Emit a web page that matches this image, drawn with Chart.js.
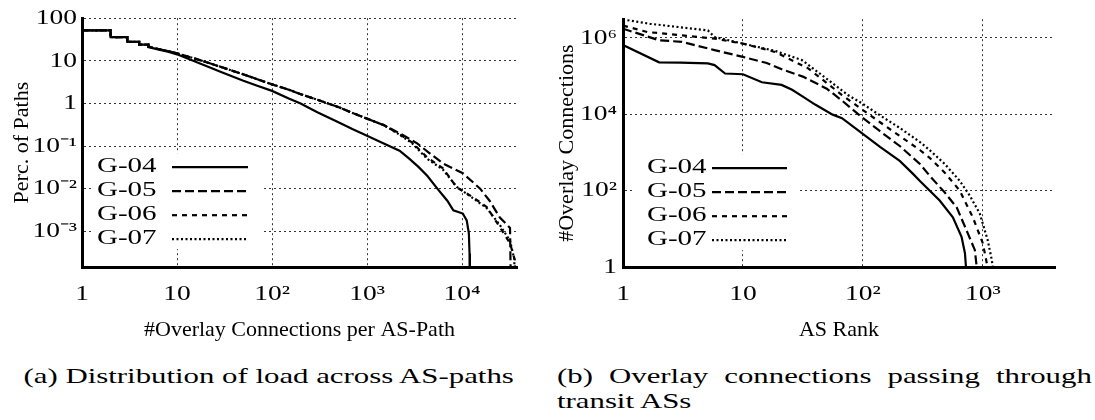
<!DOCTYPE html>
<html><head><meta charset="utf-8">
<script src="https://cdn.jsdelivr.net/npm/chart.js@4.4.1/dist/chart.umd.min.js"></script>
<style>
html,body{margin:0;padding:0;background:#fff;}
body{width:1095px;height:420px;position:relative;overflow:hidden;font-family:"Liberation Serif",serif;color:#000;}
#ca{position:absolute;left:0;top:0;}
#cb{position:absolute;left:545px;top:0;}
.cap{position:absolute;font-size:22px;line-height:25px;white-space:nowrap;}
#capa{left:0;top:363px;width:537px;text-align:center;transform:scaleX(1.4);transform-origin:268px 0;}
#capb1{left:557px;top:363px;width:382px;text-align:justify;text-align-last:justify;transform:scaleX(1.4);transform-origin:0 0;}
#capb2{left:557px;top:388px;transform:scaleX(1.4);transform-origin:0 0;}
</style></head><body>
<canvas id="ca" width="545" height="345"></canvas>
<canvas id="cb" width="550" height="345"></canvas>
<div class="cap" id="capa">(a) Distribution of load across AS-paths</div>
<div class="cap" id="capb1">(b) Overlay connections passing through</div>
<div class="cap" id="capb2">transit ASs</div>
<script>
// ---------- series names ----------
const seriesNames = ['G-04', 'G-05', 'G-06', 'G-07'];

// ---------- panel (a): % of paths vs #overlay connections per AS-path ----------
const a04x = [1,2,2,3,3,4,4,5,5,6,7,8,10,15,20,30,50,70,100,150,200,300,500,700,1000,1500,2200,2800,3500,4300,5500,7000,8100,10200,11200,11800,12000,12100];
const a04y = [52,52,36,36,28,28,24,24,21,19,17.5,16.3,14.2,9.9,7.7,5.3,3.4,2.6,1.97,1.3,1.0,0.62,0.36,0.25,0.175,0.115,0.078,0.05,0.032,0.02,0.01,0.0052,0.0031,0.0026,0.0018,0.0009,0.0003,0.00001];
const a05x = [1,2,2,3,3,4,4,5,5,6,7,8,10,15,20,30,50,70,100,150,200,300,500,700,1000,1500,2200,3400,4300,6300,10200,15500,19500,25000,32000,33000];
const a05y = [52,52,36,36,28,28,24,24,21.5,19.5,18,17,15,11.5,9.4,7.0,4.8,3.7,2.8,2.1,1.65,1.22,0.82,0.6,0.44,0.31,0.2,0.114,0.075,0.039,0.023,0.01,0.0052,0.0021,0.0012,0.00001];
const a06x = [1,2,2,3,3,4,4,5,5,6,7,8,10,15,20,30,50,70,100,150,200,300,500,700,1000,1500,2200,3000,4300,6300,8800,13000,18200,25000,32000,36000,36500];
const a06y = [52,52,36,36,28,28,24,24,21.5,19.5,18,17,15,11.5,9.4,7.0,4.8,3.7,2.8,2.1,1.65,1.22,0.82,0.6,0.44,0.31,0.19,0.12,0.054,0.03,0.0107,0.0063,0.0037,0.00125,0.00052,0.00021,0.000001];
const a07x = [1,2,2,3,3,4,4,5,5,6,7,8,10,15,20,30,50,70,100,150,200,300,500,700,1000,1500,2200,3000,4300,6300,8800,13000,18200,25000,32000,35500,36500];
const a07y = [52,52,36,36,28,28,24,24,21.5,19.5,18,17,15,11.5,9.4,7.0,4.8,3.7,2.8,2.1,1.65,1.22,0.82,0.6,0.44,0.31,0.185,0.115,0.05,0.028,0.011,0.006,0.0035,0.0014,0.0006,0.00022,0.000001];

// ---------- panel (b): #overlay connections vs AS rank ----------
const b04x = [1,2,3,5.1,5.8,7.1,10,14.4,21,25.7,31.6,40,56,67,98,139,203,262,299,437,563,665,710,724];
const b04y = [6.5e5,2.3e5,2.25e5,2.15e5,1.95e5,1.17e5,1.12e5,6.9e4,5.9e4,4.4e4,2.9e4,1.8e4,9.8e3,7.9e3,3.2e3,1.4e3,600,275,180,55,20,6.2,2.3,1];
const b05x = [1,2,3.1,5.8,10,15.8,21.5,31.6,50,68,98,139,203,299,361,482,607,750,858,890];
const b05y = [1.75e6,8.7e5,7.9e5,4.8e5,3.2e5,2.2e5,1.48e5,9.7e4,4.7e4,2.2e4,8400,3600,1480,500,245,89,36,7.6,2.8,1];
const b06x = [1,1.6,3.1,5.8,10,18.5,35,67,98,139,203,299,361,482,643,826,1000,1080,1096];
const b06y = [2.1e6,1.43e6,1.17e6,9.6e5,7.1e5,4.3e5,1.6e5,3.2e4,1.35e4,6200,2700,1160,720,295,100,20,4.2,1.26,1];
const b07x = [1,1.68,5.1,5.8,10,18.5,31,40,75,98,139,203,299,361,482,643,779,944,1100,1190,1210];
const b07y = [3.06e6,2.35e6,1.58e6,1.06e6,7.1e5,4.6e5,2.63e5,1.45e5,3.2e4,1.95e4,9400,4400,1880,1150,500,180,74,25,5,1.5,1];

// ---------- tick values and labels ----------
const aXTicks = [1,10,100,1000,10000];
const aXLabels = ['1','10','10\u00B2','10\u00B3','10\u2074'];
const aYTicks = [0.001,0.01,0.1,1,10,100];
const aYLabels = ['10\u207B\u00B3','10\u207B\u00B2','10\u207B\u00B9','1','10','100'];
const bXTicks = [1,10,100,1000];
const bXLabels = ['1','10','10\u00B2','10\u00B3'];
const bYTicks = [1,100,10000,1000000];
const bYLabels = ['1','10\u00B2','10\u2074','10\u2076'];

const lineStyles = [
  {borderDash: []},
  {borderDash: [9,4]},
  {borderDash: [5,5]},
  {borderDash: [2,2.5]}
];

const FONT = '"Liberation Serif", "Times New Roman", serif';
const TICK_SX = 1.25;     // horizontal stretch of tick labels (reference text is wide)
const LEGEND_SX = 1.45;   // horizontal stretch of legend labels

function pts(xs, ys) { return xs.map((x, i) => ({x: x, y: ys[i]})); }

function makeDatasets(pairs) {
  return pairs.map((p, i) => ({
    label: seriesNames[i],
    data: pts(p[0], p[1]),
    borderColor: '#000',
    borderWidth: 2.2,
    borderDash: lineStyles[i].borderDash,
    borderCapStyle: 'butt',
    pointRadius: 0,
    fill: false,
    tension: 0
  }));
}

const tickLabelSet = new Set([].concat(aXLabels, aYLabels, bXLabels, bYLabels));

const stretchText = {
  id: 'stretchText',
  beforeInit(chart) {
    const ctx = chart.ctx;
    const orig = ctx.fillText.bind(ctx);
    ctx.fillText = function(text, x, y, maxWidth) {
      if (tickLabelSet.has(String(text))) {
        ctx.save();
        ctx.translate(x, y);
        ctx.scale(TICK_SX, 1);
        orig(text, 0, 0);
        ctx.restore();
      } else if (maxWidth === undefined) {
        orig(text, x, y);
      } else {
        orig(text, x, y, maxWidth);
      }
    };
  }
};

const inlineLegend = {
  id: 'inlineLegend',
  beforeDatasetsDraw(chart, args, o) {
    const ctx = chart.ctx, ca = chart.chartArea;
    ctx.save();
    ctx.setLineDash([]);
    ctx.fillStyle = '#fff';
    ctx.fillRect(ca.left + o.boxLeft, ca.top + o.boxTop, o.boxWidth, o.boxHeight);
    ctx.font = o.font;
    ctx.fillStyle = '#000';
    ctx.textBaseline = 'middle';
    ctx.textAlign = 'left';
    chart.data.datasets.forEach((ds, i) => {
      const y = ca.top + o.rowTop + i * o.rowGap;
      ctx.save();
      ctx.translate(ca.left + o.textX, y);
      ctx.scale(LEGEND_SX, 1);
      ctx.fillText(ds.label, 0, 0);
      ctx.restore();
      ctx.beginPath();
      ctx.setLineDash(ds.borderDash || []);
      ctx.lineWidth = ds.borderWidth;
      ctx.lineCap = 'butt';
      ctx.strokeStyle = ds.borderColor;
      ctx.moveTo(ca.left + o.lineX0, y);
      ctx.lineTo(ca.left + o.lineX1, y);
      ctx.stroke();
    });
    ctx.restore();
  }
};

function axis(opts) {
  return {
    type: 'logarithmic',
    position: opts.position,
    min: opts.min,
    max: opts.max,
    afterBuildTicks: (s) => { s.ticks = opts.ticks.map(v => ({value: v})); },
    afterFit: (s) => { if (opts.width) s.width = opts.width; if (opts.height) s.height = opts.height; },
    ticks: {
      autoSkip: false,
      maxRotation: 0,
      color: '#000',
      padding: opts.tickPad,
      font: {family: FONT, size: 22},
      callback: (v, i) => opts.labels[i]
    },
    grid: {color: '#333', lineWidth: 1, drawTicks: false},
    border: {display: true, color: '#000', width: 3, dash: [2,3]},
    title: {display: true, text: opts.title, color: '#000', font: {family: FONT, size: 22}, padding: opts.titlePad}
  };
}

function makeChart(id, datasets, sc, pad, legendOpts) {
  return new Chart(document.getElementById(id), {
    type: 'line',
    data: {datasets: datasets},
    options: {
      responsive: false,
      animation: false,
      devicePixelRatio: 1,
      layout: {padding: pad},
      plugins: {legend: {display: false}, tooltip: {enabled: false}, inlineLegend: legendOpts},
      scales: sc
    },
    plugins: [stretchText, inlineLegend]
  });
}

makeChart('ca',
  makeDatasets([[a04x,a04y],[a05x,a05y],[a06x,a06y],[a07x,a07y]]),
  {
    x: axis({position:'bottom', min:1, max:37900, ticks:aXTicks, labels:aXLabels, height:78, tickPad:14,
             title:'#Overlay Connections per AS-Path', titlePad:{top:0,bottom:2}}),
    y: axis({position:'left', min:1.45e-4, max:100, ticks:aYTicks, labels:aYLabels, width:82, tickPad:5,
             title:'Perc. of Paths', titlePad:{top:9,bottom:0}})
  },
  {left:0, right:28, top:17, bottom:0},
  {font:'20px ' + FONT, boxLeft:12, boxTop:135, boxWidth:168, boxHeight:96, rowTop:149, rowGap:24, textX:15, lineX0:90, lineX1:166}
);

makeChart('cb',
  makeDatasets([[b04x,b04y],[b05x,b05y],[b06x,b06y],[b07x,b07y]]),
  {
    x: axis({position:'bottom', min:1, max:4000, ticks:bXTicks, labels:bXLabels, height:78, tickPad:14,
             title:'AS Rank', titlePad:{top:0,bottom:2}}),
    y: axis({position:'left', min:1, max:3.1e6, ticks:bYTicks, labels:bYLabels, width:78, tickPad:6,
             title:'#Overlay Connections', titlePad:{top:9,bottom:0}})
  },
  {left:0, right:40, top:17, bottom:0},
  {font:'20px ' + FONT, boxLeft:12, boxTop:135, boxWidth:165, boxHeight:96, rowTop:149, rowGap:24, textX:24, lineX0:89, lineX1:164}
);
</script>
</body></html>
